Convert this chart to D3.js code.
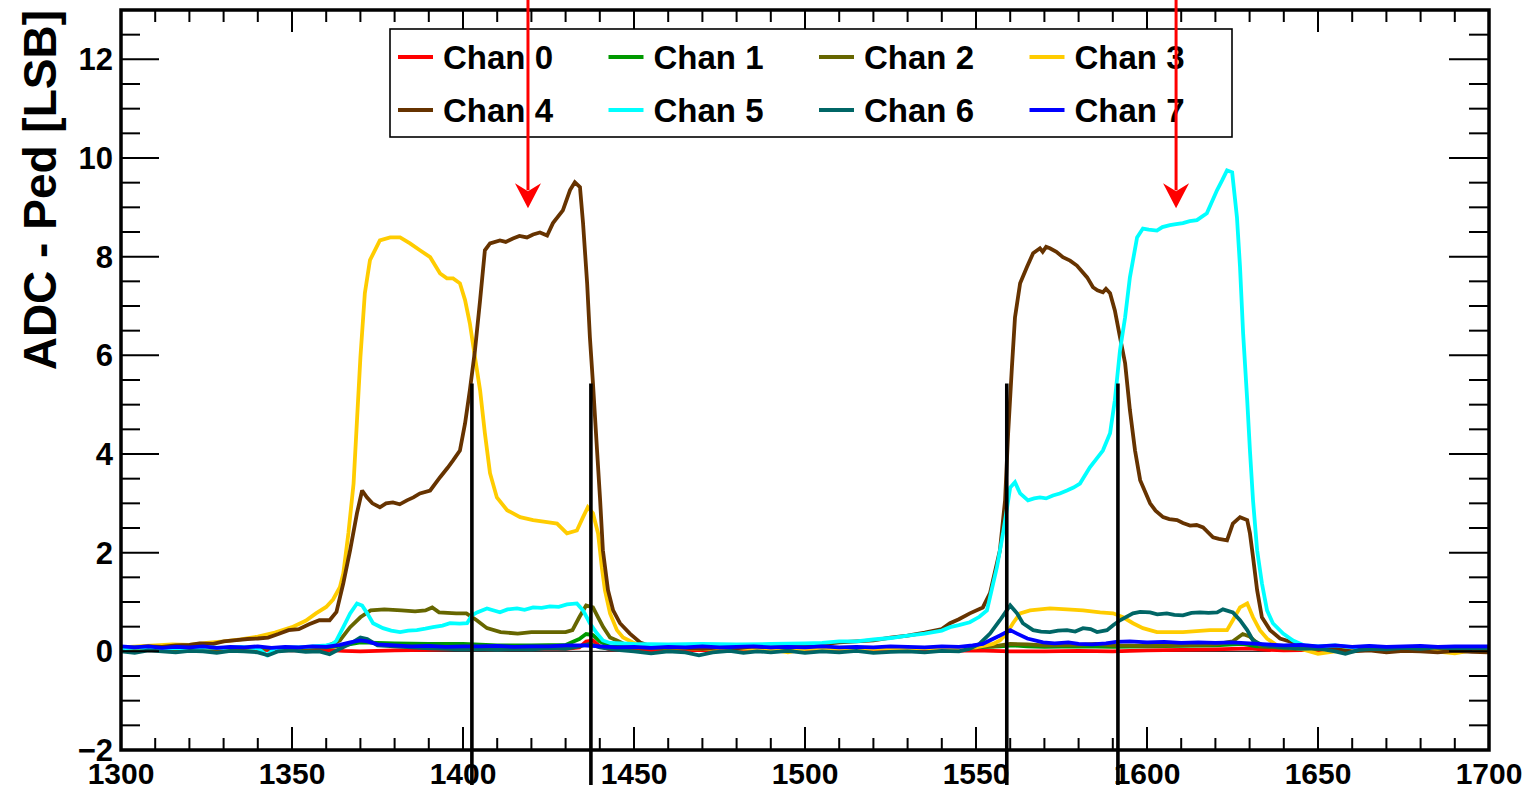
<!DOCTYPE html>
<html>
<head>
<meta charset="utf-8">
<script src="https://cdn.jsdelivr.net/npm/d3@7/dist/d3.min.js"></script>
<style>
  html, body { margin: 0; padding: 0; background: #fff; }
  svg { display: block; }
  text { font-family: "Liberation Sans", Arial, Helvetica, sans-serif; font-weight: bold; fill: #000; }
</style>
</head>
<body>
<svg id="chart" width="1530" height="785"></svg>
<script>
// ---------------- DATA ----------------
const channelNames = ["Chan 0","Chan 1","Chan 2","Chan 3","Chan 4","Chan 5","Chan 6","Chan 7"];
const channelColors = ["#ff0000","#009900","#666600","#ffcc00","#663300","#00ffff","#006666","#0000ff"];

const xTickValues = [1300,1350,1400,1450,1500,1550,1600,1650,1700];
const yTickValues = [-2,0,2,4,6,8,10,12];

const markerX = [1402.6, 1437.4, 1559.0, 1591.5];   // black vertical lines
const markerTop = 5.43;
const arrowX = [1419.0, 1608.5];                      // red arrows
const arrowTip = 8.98;

const chan0 = [[1300,0.03],[1310,0.02],[1320,0.03],[1330,0.02],[1340,0.03],[1350,0.02],[1360,0.03],[1365,0.01],[1370,0.0],[1375,0.01],[1380,0.02],[1390,0.03],[1400,0.05],[1410,0.04],[1420,0.05],[1430,0.05],[1434,0.08],[1436,0.2],[1438,0.22],[1440,0.1],[1443,0.04],[1450,0.03],[1460,0.02],[1470,0.03],[1480,0.02],[1490,0.03],[1500,0.02],[1510,0.03],[1520,0.02],[1530,0.02],[1540,0.01],[1550,0.02],[1560,0.0],[1570,0.0],[1580,0.01],[1590,0.0],[1600,0.02],[1610,0.03],[1620,0.04],[1625,0.05],[1630,0.06],[1635,0.03],[1640,0.02],[1650,0.03],[1660,0.02],[1670,0.03],[1680,0.02],[1690,0.03],[1700,0.02]];

const chan1 = [[1300,0.05],[1310,0.06],[1320,0.05],[1330,0.07],[1340,0.06],[1350,0.07],[1360,0.08],[1365,0.12],[1370,0.18],[1375,0.17],[1380,0.16],[1390,0.15],[1400,0.15],[1410,0.12],[1420,0.12],[1430,0.13],[1434,0.25],[1436,0.35],[1438,0.33],[1440,0.2],[1443,0.1],[1450,0.08],[1460,0.07],[1470,0.06],[1480,0.07],[1490,0.06],[1500,0.07],[1510,0.06],[1520,0.07],[1530,0.06],[1540,0.07],[1550,0.08],[1557,0.1],[1561,0.12],[1565,0.1],[1570,0.09],[1580,0.1],[1590,0.09],[1600,0.1],[1610,0.11],[1620,0.12],[1628,0.15],[1632,0.1],[1640,0.08],[1650,0.07],[1660,0.06],[1670,0.07],[1680,0.06],[1690,0.07],[1700,0.06]];

const chan2 = [[1300,0.04],[1310,0.05],[1320,0.04],[1330,0.05],[1340,0.06],[1350,0.05],[1360,0.1],[1364,0.22],[1367,0.49],[1370,0.69],[1373,0.83],[1377,0.85],[1382,0.83],[1386,0.81],[1389,0.83],[1391,0.89],[1393,0.79],[1398,0.77],[1401,0.77],[1404,0.63],[1407,0.47],[1411,0.39],[1416,0.36],[1420,0.39],[1425,0.39],[1430,0.39],[1432,0.43],[1434,0.69],[1436,0.93],[1438,0.89],[1439.5,0.69],[1441,0.49],[1443,0.28],[1445,0.22],[1448,0.12],[1455,0.08],[1465,0.07],[1475,0.06],[1485,0.08],[1495,0.06],[1505,0.07],[1515,0.06],[1525,0.07],[1535,0.06],[1545,0.08],[1555,0.1],[1560,0.15],[1565,0.14],[1570,0.12],[1580,0.13],[1585,0.15],[1590,0.12],[1600,0.11],[1610,0.12],[1620,0.14],[1625,0.2],[1628,0.35],[1630,0.3],[1633,0.12],[1640,0.06],[1650,0.04],[1660,0.03],[1670,0.05],[1680,0.02],[1690,0.03],[1700,0.02]];

const chan3 = [[1300,0.08],[1305,0.1],[1310,0.12],[1315,0.14],[1320,0.13],[1325,0.17],[1330,0.2],[1335,0.24],[1340,0.3],[1345,0.38],[1350,0.49],[1354,0.62],[1357,0.77],[1360,0.9],[1362,1.05],[1364,1.3],[1365,1.58],[1366.5,2.4],[1368,3.4],[1370,5.96],[1371.3,7.26],[1372.8,7.93],[1375.7,8.33],[1378.7,8.39],[1381.6,8.39],[1384.5,8.27],[1387.4,8.13],[1390.4,7.99],[1393.3,7.66],[1395.3,7.56],[1397.1,7.56],[1399.1,7.46],[1400.6,7.12],[1402,6.65],[1403.5,5.96],[1405,5.29],[1406.4,4.42],[1407.9,3.61],[1409.9,3.12],[1412.9,2.86],[1416.7,2.72],[1420.5,2.66],[1424.6,2.62],[1427.5,2.59],[1430.4,2.39],[1433.3,2.45],[1435.1,2.72],[1436.5,2.92],[1438,2.8],[1439.5,2.39],[1440.6,1.7],[1441.5,1.24],[1443,0.77],[1445,0.43],[1446.8,0.28],[1449.7,0.18],[1453,0.1],[1460,0.08],[1470,0.05],[1480,0.06],[1490,0.04],[1495,-0.02],[1500,0.05],[1510,0.06],[1520,0.05],[1530,0.07],[1540,0.06],[1550,0.08],[1555,0.15],[1557,0.22],[1559,0.36],[1560.8,0.57],[1562.9,0.77],[1565.8,0.83],[1571.6,0.87],[1576.6,0.85],[1581.3,0.83],[1586.3,0.79],[1590.1,0.77],[1593,0.69],[1595.9,0.57],[1598.8,0.47],[1602.9,0.39],[1610.5,0.39],[1618.4,0.43],[1623.4,0.43],[1625.1,0.63],[1627.2,0.89],[1629.3,0.97],[1631,0.69],[1633,0.43],[1635.1,0.26],[1638,0.12],[1645,0.05],[1650,-0.05],[1655,0.0],[1660,0.04],[1670,0.02],[1680,0.03],[1690,-0.04],[1695,0.02],[1700,0.0]];

const chan4 = [[1300,0.06],[1303.5,0.08],[1308,0.1],[1312,0.09],[1316,0.12],[1320,0.13],[1323,0.16],[1327,0.15],[1330,0.2],[1333,0.22],[1337,0.25],[1340,0.26],[1343,0.28],[1346,0.35],[1349,0.43],[1352,0.45],[1355,0.55],[1358,0.63],[1361,0.63],[1363,0.8],[1365,1.38],[1367,2.05],[1369,2.8],[1370.5,3.26],[1371.9,3.12],[1373.5,3.0],[1375.7,2.92],[1377.5,3.0],[1379.5,3.02],[1381.5,2.98],[1383.6,3.06],[1385.5,3.12],[1387.4,3.2],[1390.4,3.26],[1393.3,3.53],[1395.5,3.72],[1397.1,3.87],[1399.1,4.07],[1400.6,4.62],[1402,5.29],[1403.5,6.1],[1405,7.12],[1406.4,8.13],[1407.9,8.27],[1410.8,8.33],[1412.5,8.3],[1414.6,8.37],[1416.5,8.42],[1418.7,8.39],[1420.5,8.45],[1422.5,8.49],[1424.6,8.43],[1426.3,8.68],[1429.2,8.94],[1431.3,9.35],[1432.7,9.51],[1434.2,9.41],[1435.1,8.68],[1436.3,7.46],[1437.1,6.37],[1438,5.43],[1439.2,4.07],[1440.1,3.06],[1440.9,2.05],[1442.4,1.24],[1443.9,0.83],[1445.9,0.57],[1448.8,0.36],[1451.8,0.18],[1455,0.1],[1460,0.08],[1465,0.07],[1470,0.05],[1475,0.08],[1480,0.06],[1485,0.1],[1490,0.08],[1495,0.1],[1500,0.12],[1505,0.14],[1510,0.18],[1515,0.2],[1520,0.22],[1525,0.28],[1530,0.32],[1535,0.38],[1540,0.45],[1542.4,0.57],[1545,0.65],[1548.2,0.77],[1552,0.89],[1554.1,1.18],[1557,2.05],[1558.5,3.06],[1559.4,4.42],[1560.5,5.76],[1561.4,6.77],[1562.9,7.46],[1564.9,7.79],[1566.7,8.07],[1568.7,8.17],[1569.5,8.1],[1570.5,8.2],[1571.6,8.17],[1573.5,8.1],[1575.4,7.99],[1577.5,7.92],[1579.5,7.82],[1581,7.7],[1582.5,7.58],[1584.2,7.38],[1585.5,7.32],[1587.1,7.28],[1588,7.35],[1589.2,7.26],[1590.6,6.91],[1592.1,6.37],[1593.6,5.84],[1595,4.89],[1596.5,4.07],[1598,3.47],[1600.9,3.0],[1602.5,2.85],[1604.7,2.72],[1606.5,2.68],[1608.8,2.66],[1610.5,2.6],[1612.6,2.55],[1614.5,2.56],[1616.4,2.51],[1619.3,2.31],[1621,2.28],[1623.4,2.25],[1625.1,2.59],[1627.2,2.72],[1629.3,2.66],[1630.1,2.39],[1631,1.91],[1632.2,1.24],[1633.6,0.69],[1636,0.43],[1638.9,0.26],[1642.7,0.18],[1646,0.1],[1650,0.06],[1655,0.04],[1660,0.0],[1665,0.02],[1670,-0.02],[1675,0.01],[1680,0.0],[1685,-0.02],[1690,0.01],[1695,-0.01],[1700,-0.02]];

const chan5 = [[1300,0.06],[1305,0.08],[1310,0.05],[1315,0.07],[1320,0.06],[1325,0.08],[1330,0.07],[1335,0.09],[1340,0.06],[1342.7,-0.08],[1345,0.06],[1349,0.08],[1352,0.08],[1356,0.1],[1360,0.12],[1362,0.15],[1363,0.22],[1365,0.49],[1367,0.77],[1369,0.97],[1370.5,0.93],[1372,0.77],[1373.7,0.57],[1376.6,0.47],[1379,0.42],[1381.6,0.39],[1384,0.42],[1386.5,0.43],[1389,0.46],[1391.2,0.49],[1394,0.52],[1396.2,0.57],[1399,0.56],[1401.2,0.57],[1402.6,0.73],[1404.1,0.79],[1407,0.87],[1410.8,0.79],[1413,0.85],[1415.8,0.87],[1418,0.84],[1420.5,0.89],[1423,0.88],[1425.4,0.91],[1428,0.9],[1430.4,0.95],[1433.3,0.97],[1435.1,0.83],[1437.1,0.57],[1439.2,0.36],[1440.9,0.22],[1443,0.17],[1450,0.15],[1460,0.14],[1470,0.15],[1480,0.14],[1490,0.15],[1500,0.16],[1505,0.17],[1510,0.2],[1515,0.2],[1520,0.24],[1525,0.27],[1530,0.32],[1535,0.36],[1540,0.42],[1542.4,0.49],[1545,0.53],[1548.2,0.59],[1551,0.7],[1553.2,0.83],[1556.1,1.7],[1557.9,2.39],[1560,3.32],[1561.4,3.43],[1562.9,3.2],[1565.2,3.06],[1567,3.1],[1568.7,3.12],[1570.5,3.1],[1572.5,3.16],[1574.5,3.2],[1576.6,3.26],[1578.5,3.32],[1580.4,3.4],[1583.3,3.73],[1585,3.88],[1587.1,4.07],[1589.2,4.42],[1590.6,5.09],[1592.1,6.1],[1593.6,6.77],[1595,7.58],[1597.1,8.39],[1598.8,8.57],[1600.5,8.55],[1602.9,8.53],[1604.5,8.6],[1606.7,8.64],[1608.5,8.66],[1610.5,8.68],[1612.5,8.72],[1614.6,8.74],[1617.5,8.88],[1620.5,9.35],[1622,9.55],[1623.4,9.75],[1624.9,9.71],[1626.3,8.8],[1627.2,7.79],[1628.1,6.45],[1629.3,5.09],[1630.1,4.07],[1631,3.06],[1632.2,2.05],[1633.6,1.38],[1635.1,0.83],[1636.8,0.57],[1639.8,0.36],[1642.7,0.22],[1646,0.12],[1650,0.1],[1655,0.12],[1660,0.08],[1665,0.1],[1670,0.08],[1680,0.09],[1690,0.08],[1700,0.09]];

const chan6 = [[1300,0.0],[1304,-0.03],[1308,0.02],[1312,0.0],[1316,-0.02],[1320,0.01],[1324,0.0],[1328,-0.03],[1332,0.01],[1336,0.0],[1340,-0.02],[1343,-0.08],[1346,0.0],[1350,0.02],[1354,-0.01],[1358,0.0],[1361,-0.06],[1364,0.05],[1367,0.15],[1370,0.28],[1372,0.25],[1375,0.12],[1380,0.1],[1385,0.08],[1390,0.06],[1395,0.05],[1400,0.04],[1405,0.05],[1410,0.03],[1415,0.05],[1420,0.04],[1425,0.06],[1430,0.05],[1434,0.1],[1437,0.15],[1440,0.08],[1445,0.03],[1450,0.0],[1455,-0.04],[1460,0.0],[1465,-0.02],[1469,-0.08],[1473,-0.02],[1478,0.01],[1482,-0.03],[1486,0.0],[1490,-0.02],[1495,0.01],[1500,-0.03],[1505,0.0],[1510,-0.02],[1515,0.01],[1520,-0.03],[1525,-0.01],[1530,0.0],[1535,-0.02],[1540,0.01],[1545,0.0],[1548,0.05],[1551,0.15],[1554.1,0.36],[1557,0.63],[1560,0.93],[1562,0.77],[1563.7,0.57],[1566.7,0.43],[1569,0.4],[1571.6,0.39],[1574,0.42],[1576.6,0.43],[1579,0.4],[1581.3,0.47],[1583.5,0.45],[1585.4,0.39],[1588.3,0.43],[1590.1,0.53],[1592.1,0.63],[1595.9,0.77],[1598,0.8],[1600.9,0.79],[1603,0.75],[1605.8,0.77],[1608,0.74],[1610.5,0.73],[1613,0.78],[1615.5,0.79],[1618,0.78],[1620.5,0.79],[1622.2,0.85],[1625.1,0.79],[1627.2,0.63],[1629.3,0.43],[1631,0.22],[1634,0.12],[1640,0.08],[1645,0.05],[1650,0.06],[1655,0.0],[1658,-0.05],[1662,0.03],[1666,0.05],[1670,0.04],[1675,0.07],[1680,0.05],[1685,0.08],[1690,0.06],[1695,0.07],[1700,0.06]];

const chan7 = [[1300,0.1],[1304,0.08],[1308,0.1],[1312,0.07],[1316,0.09],[1320,0.08],[1324,0.1],[1328,0.07],[1332,0.09],[1336,0.08],[1340,0.1],[1344,0.07],[1348,0.09],[1352,0.08],[1356,0.1],[1360,0.09],[1364,0.13],[1367,0.18],[1370,0.22],[1372,0.2],[1375,0.14],[1380,0.12],[1385,0.1],[1390,0.11],[1395,0.09],[1400,0.1],[1405,0.1],[1410,0.11],[1415,0.09],[1420,0.1],[1425,0.1],[1430,0.12],[1435,0.12],[1440,0.1],[1445,0.08],[1450,0.09],[1455,0.07],[1460,0.09],[1465,0.08],[1470,0.1],[1475,0.08],[1480,0.09],[1485,0.1],[1490,0.08],[1495,0.09],[1500,0.08],[1505,0.1],[1510,0.08],[1515,0.09],[1520,0.08],[1525,0.1],[1530,0.09],[1535,0.08],[1540,0.1],[1545,0.09],[1549,0.12],[1552,0.15],[1554,0.22],[1557,0.32],[1560,0.43],[1562,0.36],[1565,0.26],[1569.6,0.18],[1573,0.16],[1577,0.18],[1580,0.15],[1584,0.14],[1588,0.16],[1591,0.19],[1595,0.2],[1600,0.18],[1605,0.19],[1610,0.17],[1615,0.18],[1620,0.17],[1625,0.18],[1630,0.16],[1635,0.14],[1640,0.12],[1645,0.13],[1650,0.1],[1655,0.12],[1660,0.09],[1665,0.11],[1670,0.09],[1675,0.1],[1680,0.11],[1685,0.09],[1690,0.1],[1695,0.1],[1700,0.1]];

const channels = [chan0, chan1, chan2, chan3, chan4, chan5, chan6, chan7];

// ---------------- LAYOUT ----------------
const W = 1530, H = 785;
const plot = { left: 121, right: 1489, top: 10, bottom: 750 };
const svg = d3.select("#chart");

const x = d3.scaleLinear().domain([1300, 1700]).range([plot.left, plot.right]);
const y = d3.scaleLinear().domain([-2, 13]).range([plot.bottom, plot.top]);

// ---------------- SERIES ----------------
const line = d3.line().x(d => x(d[0])).y(d => y(d[1])).curve(d3.curveLinear);

svg.append("line")
  .attr("x1", x(1364)).attr("x2", x(1636))
  .attr("y1", y(0)).attr("y2", y(0))
  .attr("stroke", "#333").attr("stroke-width", 1.2);

svg.append("g").selectAll("path")
  .data(channels)
  .join("path")
  .attr("d", d => line(d))
  .attr("fill", "none")
  .attr("stroke", (d, i) => channelColors[i])
  .attr("stroke-width", 3.8)
  .attr("stroke-linejoin", "miter")
  .attr("stroke-miterlimit", 2);

// ---------------- FRAME & TICKS ----------------
const gAx = svg.append("g").attr("stroke", "#000");

const yMinor = d3.range(-2, 13.001, 0.5);
const yMajorSet = new Set(yTickValues);
gAx.selectAll("line.yl").data(yMinor).join("line")
  .attr("x1", plot.left).attr("x2", d => plot.left + (yMajorSet.has(d) ? 38 : 19))
  .attr("y1", d => y(d)).attr("y2", d => y(d)).attr("stroke-width", 2);
gAx.selectAll("line.yr").data(yMinor).join("line")
  .attr("x1", plot.right).attr("x2", d => plot.right - (yMajorSet.has(d) ? 40 : 20))
  .attr("y1", d => y(d)).attr("y2", d => y(d)).attr("stroke-width", 2);

const xMinor = d3.range(1300, 1700.001, 10);
const isXMajor = d => Math.abs(d % 50) < 1e-6;
gAx.selectAll("line.xb").data(xMinor).join("line")
  .attr("x1", d => x(d)).attr("x2", d => x(d))
  .attr("y1", plot.bottom).attr("y2", d => plot.bottom - (isXMajor(d) ? 23 : 12)).attr("stroke-width", 2);
gAx.selectAll("line.xt").data(xMinor).join("line")
  .attr("x1", d => x(d)).attr("x2", d => x(d))
  .attr("y1", plot.top).attr("y2", d => plot.top + (isXMajor(d) ? 22 : 12)).attr("stroke-width", 2);

svg.append("rect")
  .attr("x", plot.left).attr("y", plot.top)
  .attr("width", plot.right - plot.left).attr("height", plot.bottom - plot.top)
  .attr("fill", "none").attr("stroke", "#000").attr("stroke-width", 3.5);

// tick labels
svg.append("g").selectAll("text").data(yTickValues).join("text")
  .attr("x", 113).attr("y", d => y(d)).attr("dy", "0.36em")
  .attr("text-anchor", "end").attr("font-size", 31)
  .text(d => d < 0 ? "\u2212" + Math.abs(d) : d);

svg.append("g").selectAll("text").data(xTickValues).join("text")
  .attr("x", d => x(d)).attr("y", 784)
  .attr("text-anchor", "middle").attr("font-size", 30)
  .text(d => d);

// axis title
svg.append("text")
  .attr("transform", `translate(56,${plot.top}) rotate(-90)`)
  .attr("text-anchor", "end").attr("font-size", 46)
  .text("ADC - Ped [LSB]");

// ---------------- MARKER LINES ----------------
svg.append("g").selectAll("line").data(markerX).join("line")
  .attr("x1", d => x(d)).attr("x2", d => x(d))
  .attr("y1", y(markerTop)).attr("y2", H)
  .attr("stroke", "#000").attr("stroke-width", 3.6);

// ---------------- LEGEND ----------------
const leg = { x: 390, y: 29, w: 842, h: 108, cols: 4, rowH: 53, row0: 57 };
const lg = svg.append("g");
lg.append("rect").attr("x", leg.x).attr("y", leg.y).attr("width", leg.w).attr("height", leg.h)
  .attr("fill", "#fff").attr("stroke", "#000").attr("stroke-width", 1.6);
const colW = leg.w / leg.cols;
const items = lg.selectAll("g.item").data(channelNames).join("g")
  .attr("transform", (d, i) => `translate(${leg.x + (i % leg.cols) * colW},${leg.row0 + Math.floor(i / leg.cols) * leg.rowH})`);
items.append("line").attr("x1", 8).attr("x2", 43).attr("y1", 0).attr("y2", 0)
  .attr("stroke", (d, i) => channelColors[i]).attr("stroke-width", 3.8);
items.append("text").attr("x", 53).attr("y", 0).attr("dy", "0.36em")
  .attr("font-size", 33).text(d => d);

// ---------------- ARROWS ----------------
const ag = svg.append("g");
arrowX.forEach(ax => {
  const px = x(ax), tip = y(arrowTip);
  ag.append("line").attr("x1", px).attr("x2", px).attr("y1", 0).attr("y2", tip - 18)
    .attr("stroke", "#ff0000").attr("stroke-width", 3);
  ag.append("path")
    .attr("d", `M${px - 13},${tip - 25} L${px},${tip - 17} L${px + 13},${tip - 25} L${px},${tip} Z`)
    .attr("fill", "#ff0000");
});
</script>
</body>
</html>
